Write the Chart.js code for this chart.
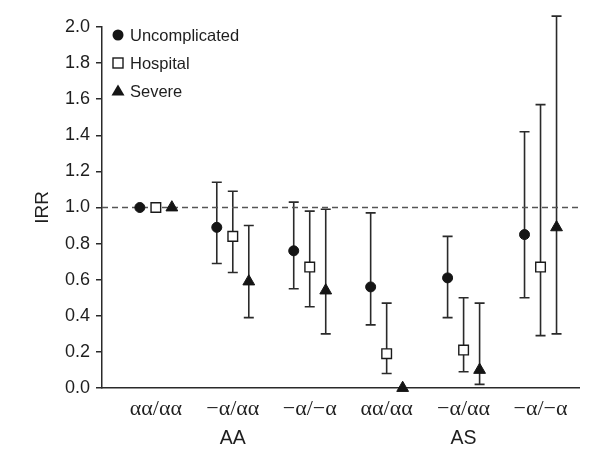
<!DOCTYPE html>
<html>
<head>
<meta charset="utf-8">
<script src="https://cdn.jsdelivr.net/npm/chart.js@4.4.1/dist/chart.umd.min.js"></script>
<style>
  html, body { margin: 0; padding: 0; background: #fff; }
  #wrap { width: 600px; height: 462px; }
</style>
</head>
<body>
<div id="wrap"><canvas id="c" width="600" height="462"></canvas></div>
<script>
// ---- data ----
const categories = ['αα/αα', '−α/αα', '−α/−α', 'αα/αα', '−α/αα', '−α/−α'];
const groupLabels = ['AA', 'AS'];
const groupPositions = [1, 4];
const seriesNames = ['Uncomplicated', 'Hospital', 'Severe'];

const uncomplicated   = [1.00, 0.89, 0.76, 0.56, 0.61, 0.85];
const uncomplicatedLo = [null, 0.69, 0.55, 0.35, 0.39, 0.50];
const uncomplicatedHi = [null, 1.14, 1.03, 0.97, 0.84, 1.42];

const hospital   = [1.00, 0.84, 0.67, 0.19, 0.21, 0.67];
const hospitalLo = [null, 0.64, 0.45, 0.08, 0.09, 0.29];
const hospitalHi = [null, 1.09, 0.98, 0.47, 0.50, 1.57];

const severe   = [1.00, 0.59, 0.54, 0.00, 0.10, 0.89];
const severeLo = [null, 0.39, 0.30, null, 0.02, 0.30];
const severeHi = [null, 0.90, 0.99, null, 0.47, 2.06];

const yTicks = [0.0, 0.2, 0.4, 0.6, 0.8, 1.0, 1.2, 1.4, 1.6, 1.8, 2.0];
const referenceValue = 1.0;

// ---- build chart ----
const offsets = [-0.208, 0, 0.208];
const seriesVals = [uncomplicated, hospital, severe];
const seriesLo = [uncomplicatedLo, hospitalLo, severeLo];
const seriesHi = [uncomplicatedHi, hospitalHi, severeHi];
const styles = [
  { pointStyle: 'circle', radius: 5, bg: '#151515', border: '#151515', bw: 1 },
  { pointStyle: 'rect', radius: 6.8, bg: '#ffffff', border: '#1a1a1a', bw: 1.4 },
  { pointStyle: 'triangle', radius: 6.8, bg: '#151515', border: '#151515', bw: 1 }
];
const INK = '#2a2a2a';
const SANS = '"Liberation Sans", Arial, Helvetica, sans-serif';
const SERIF = '"Liberation Serif", "Times New Roman", serif';

const datasets = seriesVals.map((vals, s) => ({
  type: 'scatter',
  label: seriesNames[s],
  data: vals.map((v, i) => ({ x: i + offsets[s], y: v, lo: seriesLo[s][i], hi: seriesHi[s][i] })),
  pointStyle: styles[s].pointStyle,
  pointRadius: styles[s].radius,
  pointBackgroundColor: styles[s].bg,
  pointBorderColor: styles[s].border,
  pointBorderWidth: styles[s].bw,
  showLine: false,
  clip: false,
  order: 1
}));

datasets.unshift({
  type: 'line',
  label: 'ref',
  data: [{ x: -0.7, y: referenceValue }, { x: 5.5, y: referenceValue }],
  borderColor: '#555',
  borderWidth: 1.3,
  borderDash: [6, 4],
  pointRadius: 0,
  clip: false,
  order: 2
});

const errorBars = {
  id: 'errorBars',
  beforeDatasetsDraw(chart) {
    const { ctx, scales: { x, y } } = chart;
    ctx.save();
    ctx.strokeStyle = INK;
    ctx.lineWidth = 1.6;
    chart.data.datasets.forEach(ds => {
      if (ds.type !== 'scatter') return;
      ds.data.forEach(p => {
        if (p.lo == null || p.hi == null) return;
        const px = x.getPixelForValue(p.x);
        const pl = y.getPixelForValue(p.lo);
        const ph = y.getPixelForValue(p.hi);
        ctx.beginPath();
        ctx.moveTo(px, pl); ctx.lineTo(px, ph);
        ctx.moveTo(px - 5, pl); ctx.lineTo(px + 5, pl);
        ctx.moveTo(px - 5, ph); ctx.lineTo(px + 5, ph);
        ctx.stroke();
      });
    });
    ctx.restore();
  }
};

const innerLegend = {
  id: 'innerLegend',
  afterDraw(chart) {
    const { ctx } = chart;
    const x0 = 118, xt = 130, ys = [35, 63, 91];
    ctx.save();
    ctx.font = '16.5px ' + SANS;
    ctx.textBaseline = 'middle';
    ctx.fillStyle = '#1e1e1e';
    seriesNames.forEach((name, s) => {
      const yy = ys[s];
      ctx.beginPath();
      if (s === 0) {
        ctx.arc(x0, yy, 5.5, 0, Math.PI * 2);
        ctx.fillStyle = '#151515'; ctx.fill();
      } else if (s === 1) {
        ctx.fillStyle = '#fff';
        ctx.fillRect(x0 - 5, yy - 5, 10, 10);
        ctx.strokeStyle = '#1a1a1a'; ctx.lineWidth = 1.4;
        ctx.strokeRect(x0 - 5, yy - 5, 10, 10);
      } else {
        ctx.moveTo(x0, yy - 6.5);
        ctx.lineTo(x0 + 6.5, yy + 4.5);
        ctx.lineTo(x0 - 6.5, yy + 4.5);
        ctx.closePath();
        ctx.fillStyle = '#151515'; ctx.fill();
      }
      ctx.fillStyle = '#1e1e1e';
      ctx.fillText(name, xt, yy + 1);
    });
    ctx.restore();
  }
};

new Chart(document.getElementById('c'), {
  data: { datasets },
  plugins: [errorBars, innerLegend],
  options: {
    responsive: false,
    animation: false,
    events: [],
    layout: { padding: { top: 27, right: 21, left: 0, bottom: 0 } },
    plugins: { legend: { display: false }, tooltip: { enabled: false } },
    scales: {
      x: {
        type: 'linear',
        position: 'bottom',
        weight: 0,
        min: -0.7, max: 5.5,
        afterBuildTicks: sc => { sc.ticks = categories.map((c, i) => ({ value: i })); },
        afterFit: sc => { sc.height = 30; },
        ticks: {
          callback: v => categories[v],
          font: { family: SERIF, size: 22 },
          color: '#1e1e1e',
          padding: 8,
          maxRotation: 0,
          autoSkip: false
        },
        grid: { display: true, drawOnChartArea: false, drawTicks: false },
        border: { display: true, color: INK, width: 1.5 }
      },
      x2: {
        type: 'linear',
        position: 'bottom',
        weight: 1,
        min: -0.7, max: 5.5,
        afterBuildTicks: sc => { sc.ticks = groupPositions.map(v => ({ value: v })); },
        afterFit: sc => { sc.height = 44; },
        ticks: {
          callback: v => groupLabels[groupPositions.indexOf(v)],
          font: { family: SANS, size: 19.5 },
          color: '#1e1e1e',
          padding: 1,
          maxRotation: 0,
          autoSkip: false
        },
        grid: { display: false },
        border: { display: false }
      },
      y: {
        type: 'linear',
        position: 'left',
        min: 0, max: 2,
        afterBuildTicks: sc => { sc.ticks = yTicks.map(v => ({ value: v })); },
        afterFit: sc => { sc.width = 102; },
        ticks: {
          callback: v => v.toFixed(1),
          font: { family: SANS, size: 18 },
          color: '#1e1e1e',
          padding: 6
        },
        grid: { display: true, drawOnChartArea: false, drawTicks: true, tickLength: 6, color: INK, lineWidth: 1.5 },
        border: { display: true, color: INK, width: 1.5 },
        title: {
          display: true,
          text: 'IRR',
          font: { family: SANS, size: 19 },
          color: '#1e1e1e',
          padding: { top: 31, bottom: 0 }
        }
      }
    }
  }
});
</script>
</body>
</html>
